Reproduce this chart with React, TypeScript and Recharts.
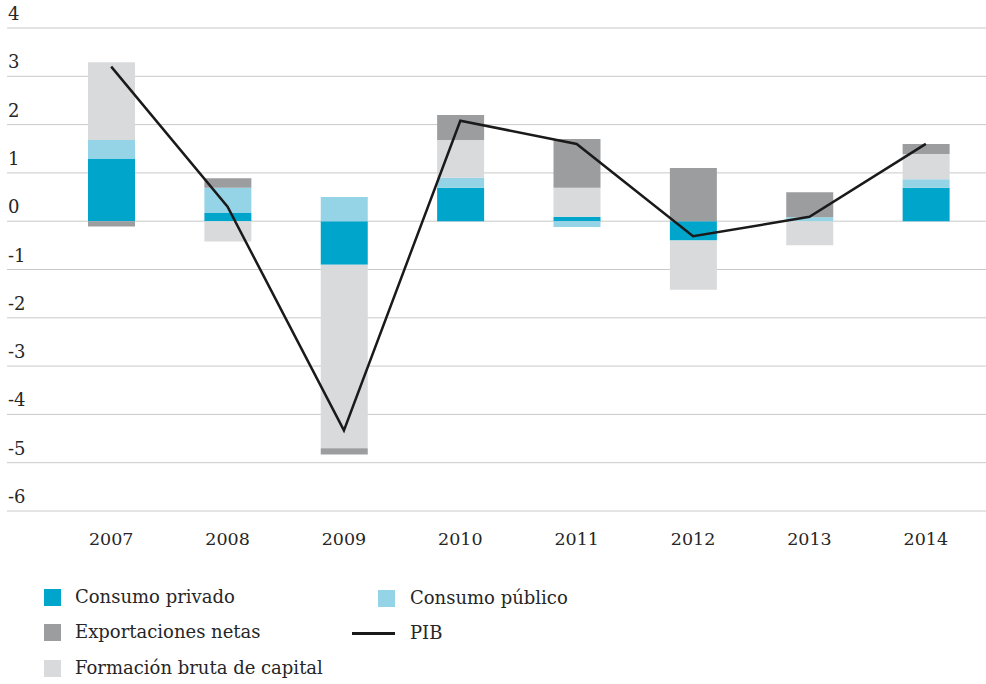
import React from "react";
import {
  ComposedChart,
  Bar,
  Line,
  XAxis,
  YAxis,
  CartesianGrid,
} from "recharts";

const years = ["2007", "2008", "2009", "2010", "2011", "2012", "2013", "2014"];
const consumoPrivado = [1.29, 0.17, -0.9, 0.69, 0.09, -0.4, 0, 0.69];
const consumoPublico = [0.39, 0.52, 0.5, 0.21, -0.12, 0, 0.08, 0.18];
const formacionBruta = [1.61, -0.42, -3.8, 0.78, 0.6, -1.02, -0.5, 0.52];
const exportacionesNetas = [-0.11, 0.2, -0.13, 0.52, 1.01, 1.1, 0.52, 0.21];
const pib = [3.2, 0.3, -4.33, 2.08, 1.6, -0.31, 0.09, 1.6];
const yTicks = [-6, -5, -4, -3, -2, -1, 0, 1, 2, 3, 4];

const FONT = "'DejaVu Serif', serif";
const TEXT = "#262626";

const COLORS = {
  privado: "#00a5cc",
  publico: "#95d4e6",
  formacion: "#d9dadc",
  exportaciones: "#9c9d9f",
  pib: "#1a1a1a",
};

const data = years.map((year, i) => ({
  year,
  privado: consumoPrivado[i],
  publico: consumoPublico[i],
  formacion: formacionBruta[i],
  exportaciones: exportacionesNetas[i],
  pib: pib[i],
}));

// legend items: col 0 = left column, col 1 = right column
const legendItems = [
  { label: "Consumo privado", color: COLORS.privado, kind: "box", col: 0, row: 0 },
  { label: "Consumo público", color: COLORS.publico, kind: "box", col: 1, row: 0 },
  { label: "Exportaciones netas", color: COLORS.exportaciones, kind: "box", col: 0, row: 1 },
  { label: "PIB", color: COLORS.pib, kind: "line", col: 1, row: 1 },
  { label: "Formación bruta de capital", color: COLORS.formacion, kind: "box", col: 0, row: 2 },
];

const YTick = ({ y, payload }: any) => (
  <text x={8} y={y - 8} textAnchor="start" fontFamily={FONT} fontSize={18} fill={TEXT}>
    {String(payload.value)}
  </text>
);

const XTick = ({ x, y, payload }: any) => (
  <text x={x} y={y + 34} textAnchor="middle" fontFamily={FONT} fontSize={17.5} fill={TEXT}>
    {payload.value}
  </text>
);

function ChartLegend() {
  const cols = [
    { iconRight: 61, textLeft: 75 },
    { iconRight: 395, textLeft: 410 },
  ];
  const rowCenters = [597, 632, 668];
  return (
    <>
      {legendItems.map((item) => {
        const c = cols[item.col];
        const cy = rowCenters[item.row] + item.col;
        const w = item.kind === "line" ? 43 : 17;
        const h = item.kind === "line" ? 3 : 17;
        return (
          <React.Fragment key={item.label}>
            <div
              style={{
                position: "absolute",
                left: c.iconRight - w,
                top: cy - h / 2,
                width: w,
                height: h,
                background: item.color,
              }}
            />
            <div
              style={{
                position: "absolute",
                left: c.textLeft,
                top: cy - 12,
                height: 24,
                lineHeight: "24px",
                fontFamily: FONT,
                fontSize: 18,
                color: TEXT,
                whiteSpace: "nowrap",
              }}
            >
              {item.label}
            </div>
          </React.Fragment>
        );
      })}
    </>
  );
}

export default function App() {
  return (
    <div style={{ position: "absolute", left: 0, top: 0, width: 986, height: 684, background: "#fff" }}>
      <ComposedChart
        width={986}
        height={684}
        data={data}
        stackOffset="sign"
        margin={{ top: 28, right: 0, left: 6, bottom: 172 }}
      >
        <CartesianGrid vertical={false} stroke="#c9c9c9" strokeWidth={1} />
        <XAxis
          dataKey="year"
          height={1}
          axisLine={false}
          tickLine={false}
          tickSize={0}
          tickMargin={0}
          padding={{ left: 46, right: 2 }}
          tick={<XTick />}
          interval={0}
        />
        <YAxis
          width={1}
          domain={[-6, 4]}
          ticks={yTicks}
          axisLine={false}
          tickLine={false}
          tick={<YTick />}
          interval={0}
        />
        <Bar dataKey="privado" stackId="a" fill={COLORS.privado} barSize={47} isAnimationActive={false} />
        <Bar dataKey="publico" stackId="a" fill={COLORS.publico} barSize={47} isAnimationActive={false} />
        <Bar dataKey="formacion" stackId="a" fill={COLORS.formacion} barSize={47} isAnimationActive={false} />
        <Bar dataKey="exportaciones" stackId="a" fill={COLORS.exportaciones} barSize={47} isAnimationActive={false} />
        <Line
          dataKey="pib"
          type="linear"
          stroke={COLORS.pib}
          strokeWidth={2.5}
          dot={false}
          activeDot={false}
          isAnimationActive={false}
        />
      </ComposedChart>
      <ChartLegend />
    </div>
  );
}
